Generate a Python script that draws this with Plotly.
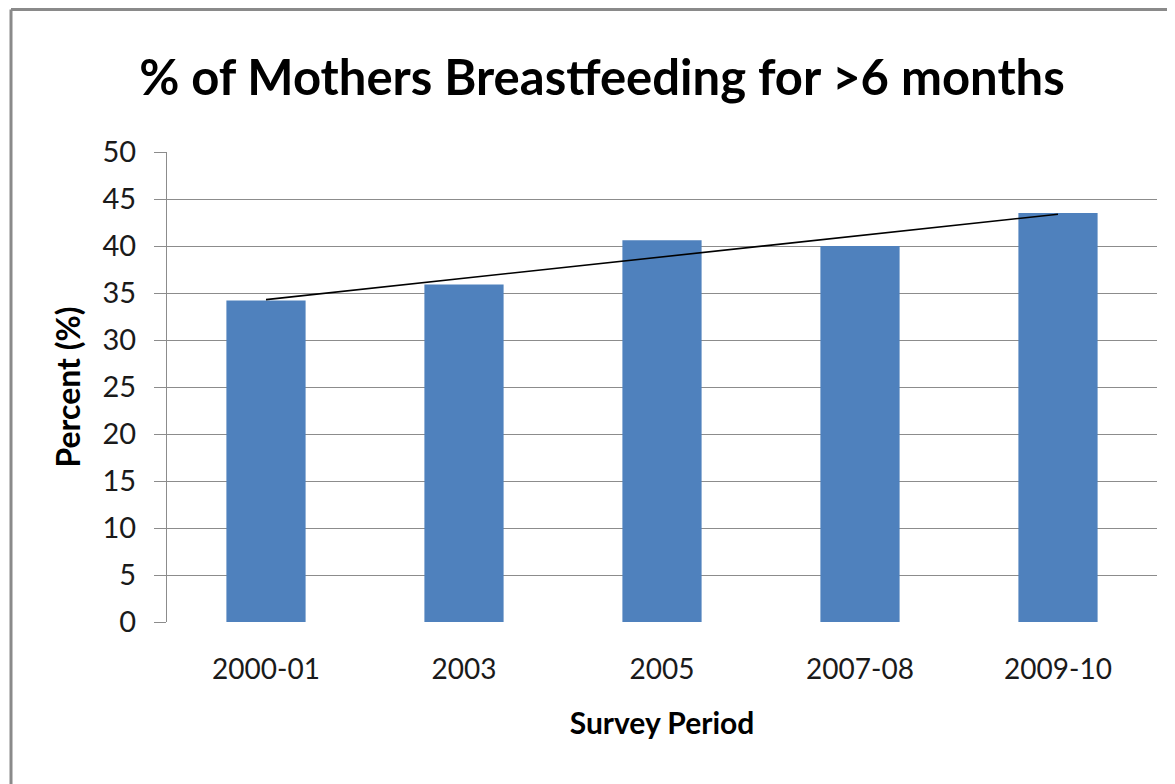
import numpy as np
import plotly.graph_objects as go

# Survey periods and % of mothers breastfeeding for >6 months
PERIODS = ["2000-01", "2003", "2005", "2007-08", "2009-10"]
PERCENT = [34.2, 35.9, 40.6, 40.0, 43.5]

Y_TICKS = [0, 5, 10, 15, 20, 25, 30, 35, 40, 45, 50]

BAR_BLUE = "#4F81BD"
GRID_GRAY = "#8C8C8C"
FONT = "Lato"

# page body adds an 8px offset, so figure coords = screenshot coords - 8
W, H = 1175, 784
L, R, T, B = 159, 26, 144, 170

# Linear trendline over the category index (as Excel does)
idx = np.arange(1, len(PERCENT) + 1)
slope, intercept = np.polyfit(idx, PERCENT, 1)
trend_y = [slope * idx[0] + intercept, slope * idx[-1] + intercept]

fig = go.Figure()
fig.add_trace(
    go.Bar(
        x=PERIODS,
        y=PERCENT,
        marker=dict(color=BAR_BLUE, line=dict(width=0)),
        hoverinfo="x+y",
    )
)
fig.add_trace(
    go.Scatter(
        x=[PERIODS[0], PERIODS[-1]],
        y=trend_y,
        mode="lines",
        line=dict(color="black", width=1.6),
        hoverinfo="skip",
    )
)

# Outer chart frame (only top and left edges fall inside the window)
px_x = lambda p: (p - L) / (W - L - R)
px_y = lambda p: (H - B - p) / (H - T - B)
frame = dict(type="line", xref="paper", yref="paper", line=dict(color="#8A8A8A", width=3))
fig.add_shape(**frame, x0=px_x(3), x1=px_x(W + 10), y0=px_y(1.5), y1=px_y(1.5))
fig.add_shape(**frame, x0=px_x(3), x1=px_x(3), y0=px_y(1.5), y1=px_y(H + 10))

fig.update_layout(
    width=W,
    height=H,
    margin=dict(l=L, r=R, t=T, b=B),
    paper_bgcolor="white",
    plot_bgcolor="white",
    showlegend=False,
    bargap=0.6,
    font=dict(family=FONT, color="#1a1a1a"),
    title=dict(
        text="<b>% of Mothers Breastfeeding for >6 months</b>",
        x=594 / W,
        xanchor="center",
        y=1 - 70 / H,
        yanchor="middle",
        font=dict(size=49, color="black", family=FONT),
    ),
)

fig.update_xaxes(
    type="category",
    showgrid=False,
    showline=False,
    ticks="",
    tickfont=dict(size=28),
    ticklabelstandoff=28,
    title=dict(
        text="<b>Survey Period</b>",
        font=dict(size=30, color="black"),
        standoff=28,
    ),
)
fig.update_yaxes(
    range=[0, 50],
    tickvals=Y_TICKS,
    showgrid=True,
    gridcolor=GRID_GRAY,
    gridwidth=1,
    zeroline=False,
    showline=True,
    linecolor=GRID_GRAY,
    linewidth=1,
    ticks="outside",
    ticklen=12,
    tickcolor=GRID_GRAY,
    tickfont=dict(size=29),
    ticklabelstandoff=12,
    title=dict(
        text="<b>Percent (%)</b>",
        font=dict(size=32, color="black"),
        standoff=12,
    ),
)

fig.write_html("out.html")
